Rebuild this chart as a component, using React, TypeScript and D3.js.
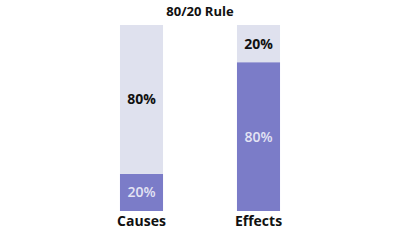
import React from "react";
import * as d3 from "d3";

const categories = ["Causes", "Effects"];
const lowerValues = [20, 80];
const upperValues = [80, 20];
const title = "80/20 Rule";

export default function App() {
  const width = 400, height = 250;
  const top = 25, bottom = 211;
  const x = d3.scaleBand<string>().domain(categories).range([83, 317]).paddingInner(0.632).paddingOuter(0.316);
  const y = d3.scaleLinear().domain([0, 100]).range([bottom, top]);
  const stack = categories.map((c, i) => ({ c, lo: lowerValues[i], hi: upperValues[i] }));
  const font = "'Open Sans', sans-serif";
  return (
    <svg width={width} height={height} style={{ position: "absolute", left: 0, top: 0 }}>
      <rect width={width} height={height} fill="#fff" />
      <text x={200} y={16} textAnchor="middle" fontFamily={font} fontWeight={700} fontSize={13} fill="#111">{title}</text>
      {stack.map((d) => {
        const bx = x(d.c)!;
        const bw = x.bandwidth();
        return (
          <g key={d.c}>
            <rect x={bx} y={y(d.lo)} width={bw} height={y(0) - y(d.lo)} fill="#7b7cc8" />
            <rect x={bx} y={y(d.lo + d.hi)} width={bw} height={y(d.lo) - y(d.lo + d.hi)} fill="#dfe1ee" />
            <text x={bx + bw / 2} y={(y(0) + y(d.lo)) / 2} dy="0.35em" textAnchor="middle" fontFamily={font} fontWeight={600} fontSize={14} fill="#e4e4f4">{d.lo}%</text>
            <text x={bx + bw / 2} y={(y(d.lo) + y(d.lo + d.hi)) / 2} dy="0.35em" textAnchor="middle" fontFamily={font} fontWeight={700} fontSize={14} fill="#111">{d.hi}%</text>
            <text x={bx + bw / 2} y={226} textAnchor="middle" fontFamily={font} fontWeight={700} fontSize={14} fill="#111">{d.c}</text>
          </g>
        );
      })}
    </svg>
  );
}
